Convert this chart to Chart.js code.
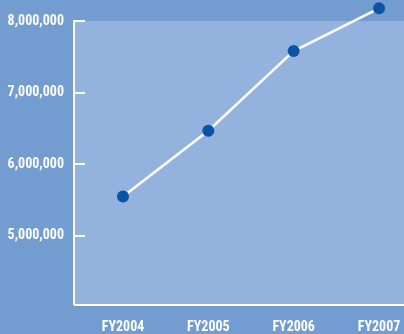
<!DOCTYPE html>
<html>
<head>
<meta charset="utf-8">
<script src="https://cdn.jsdelivr.net/npm/chart.js@4/dist/chart.umd.min.js"></script>
<style>
html,body{margin:0;padding:0;background:#739dd1;}
#wrap{width:404px;height:334px;position:relative;}
</style>
</head>
<body>
<div id="wrap"><canvas id="c" width="404" height="334"></canvas></div>
<script>
const categories = ["FY2004", "FY2005", "FY2006", "FY2007"];
const values = [5548000, 6466000, 7580000, 8178000];
const yTickValues = [5000000, 6000000, 7000000, 8000000];

const FONT = "'Roboto Condensed', 'DejaVu Sans Condensed', sans-serif";
const TOP_VALUE = yTickValues[yTickValues.length - 1];

const bgPlugin = {
  id: 'bg',
  beforeDraw(chart) {
    const {ctx, chartArea} = chart;
    const y = chart.scales.y;
    const top = y.getPixelForValue(TOP_VALUE);
    ctx.save();
    ctx.fillStyle = '#739dd1';
    ctx.fillRect(0, 0, chart.width, chart.height);
    ctx.fillStyle = '#93b2de';
    ctx.fillRect(chartArea.left, top, chartArea.right - chartArea.left, chartArea.bottom - top);
    ctx.restore();
  },
  beforeDatasetsDraw(chart) {
    const {ctx, chartArea} = chart;
    const y = chart.scales.y;
    const top = y.getPixelForValue(TOP_VALUE);
    ctx.save();
    ctx.strokeStyle = '#ffffff';
    ctx.lineWidth = 2;
    ctx.beginPath();
    ctx.moveTo(chartArea.left - 1, top - 1);
    ctx.lineTo(chartArea.left - 1, chartArea.bottom);
    ctx.stroke();
    y.ticks.forEach(t => {
      const py = Math.round(y.getPixelForValue(t.value));
      ctx.beginPath();
      ctx.moveTo(chartArea.left - 2, py);
      ctx.lineTo(chartArea.left + 10, py);
      ctx.stroke();
    });
    ctx.restore();
  }
};

new Chart(document.getElementById('c'), {
  type: 'line',
  data: {
    datasets: [{
      data: values.map((v, i) => ({x: i, y: v})),
      borderColor: '#ffffff',
      borderWidth: 2.5,
      pointRadius: 6,
      pointHoverRadius: 6,
      pointBackgroundColor: '#0b53a3',
      pointBorderWidth: 0,
      tension: 0,
      clip: false
    }]
  },
  options: {
    responsive: false,
    animation: false,
    events: [],
    layout: {padding: 0, autoPadding: false},
    plugins: {legend: {display: false}, tooltip: {enabled: false}},
    scales: {
      x: {
        type: 'linear',
        min: -0.5625,
        max: 3.293,
        afterBuildTicks: s => { s.ticks = categories.map((c, i) => ({value: i})); },
        afterFit: s => { s.height = 29; s.paddingLeft = 0; s.paddingRight = 0; },
        grid: {display: false},
        border: {display: true, color: '#ffffff', width: 2},
        ticks: {
          color: '#ffffff',
          padding: 6,
          maxRotation: 0,
          autoSkip: false,
          font: {family: FONT, size: 14, weight: 'bold'},
          callback: v => categories[v]
        }
      },
      y: {
        min: 4030000,
        max: 8293700,
        afterBuildTicks: s => { s.ticks = yTickValues.map(v => ({value: v})); },
        afterFit: s => { s.width = 75; s.paddingTop = 0; s.paddingBottom = 0; },
        grid: {display: false, drawTicks: false},
        border: {display: false},
        ticks: {
          color: '#ffffff',
          padding: 11,
          font: {family: FONT, size: 14, weight: 'bold'},
          callback: v => v.toLocaleString('en-US')
        }
      }
    }
  },
  plugins: [bgPlugin]
});
</script>
</body>
</html>
